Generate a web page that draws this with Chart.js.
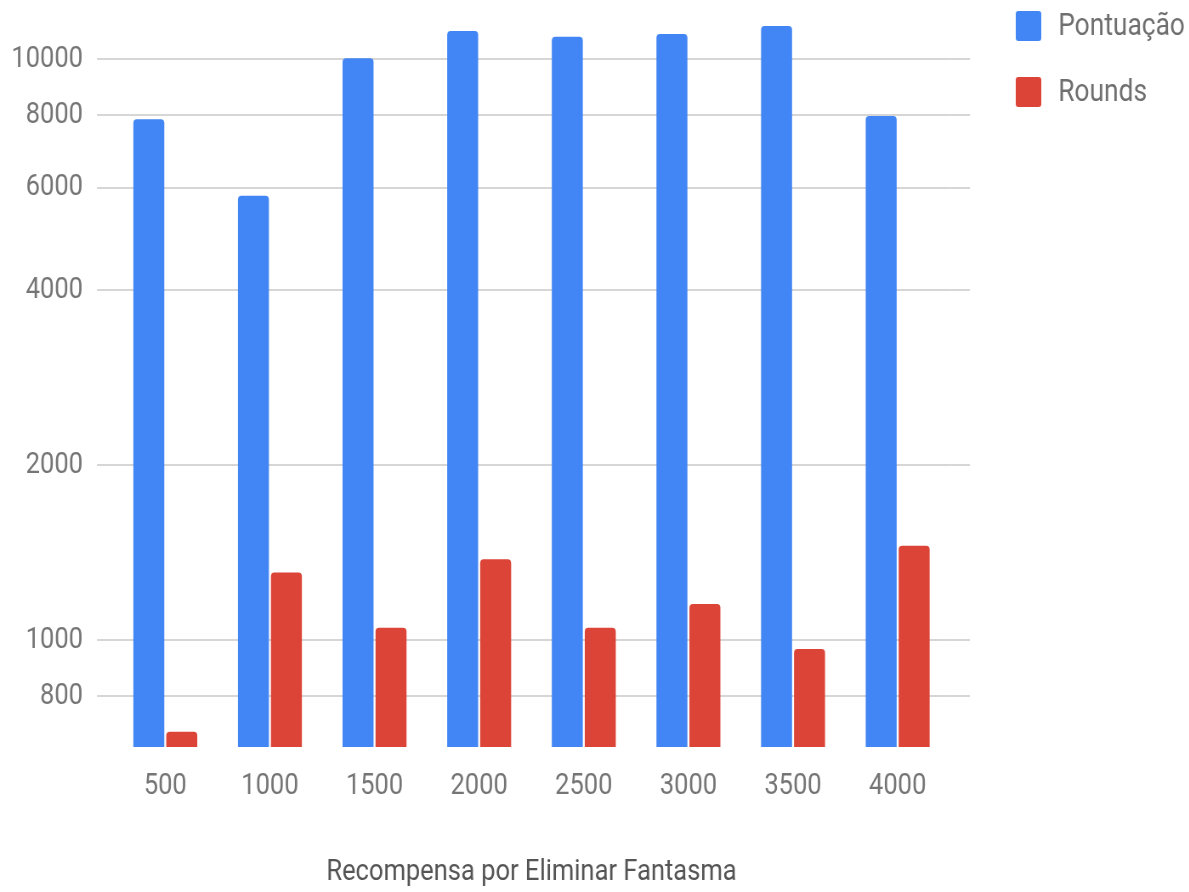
<!DOCTYPE html>
<html>
<head>
<meta charset="utf-8">
<script src="https://cdn.jsdelivr.net/npm/chart.js@4.4.1/dist/chart.umd.min.js"></script>
<style>
  html, body { margin: 0; padding: 0; background: #ffffff; overflow: hidden; }
  #wrap { width: 1189px; height: 892px; overflow: hidden; }
  /* the chart is laid out on a wider canvas and squeezed horizontally, giving condensed lettering */
  #chart { display: block; transform: scaleX(0.85); transform-origin: 0 0; }
</style>
</head>
<body>
<div id="wrap"><canvas id="chart" width="1399" height="892"></canvas></div>
<script>
// Reward per ghost eliminated vs. resulting score and number of rounds
const categories = ['500', '1000', '1500', '2000', '2500', '3000', '3500', '4000'];
const pontuacao = [7880, 5815, 10030, 11170, 10920, 11040, 11400, 7980];
const rounds = [695, 1307, 1050, 1377, 1050, 1153, 965, 1453];
const yTicks = [800, 1000, 2000, 4000, 6000, 8000, 10000];
const seriesNames = ['Pontuação', 'Rounds'];
const seriesColors = ['#4285F4', '#DB4437'];
const xTitle = 'Recompensa por Eliminar Fantasma';

const FONT = 'Roboto';
const GRID_COLOR = '#d6d6d6';

// extends the horizontal grid lines a little past the right edge of the plot
const gridTail = {
  id: 'gridTail',
  beforeDatasetsDraw(chart) {
    const { ctx, chartArea, scales } = chart;
    ctx.save();
    ctx.strokeStyle = GRID_COLOR;
    ctx.lineWidth = 2;
    scales.y.ticks.forEach(t => {
      const y = Math.round(scales.y.getPixelForValue(t.value) - 1) + 1;
      ctx.beginPath();
      ctx.moveTo(chartArea.right, y);
      ctx.lineTo(chartArea.right + 23.5, y);
      ctx.stroke();
    });
    ctx.restore();
  }
};

// series key in the top-right corner
const sideLegend = {
  id: 'sideLegend',
  afterDraw(chart) {
    const ctx = chart.ctx;
    const box = 30, step = 66, top = 11, boxX = 1195, textX = 1245;
    ctx.save();
    ctx.font = `31px ${FONT}`;
    ctx.textBaseline = 'middle';
    ctx.textAlign = 'left';
    chart.data.datasets.forEach((ds, i) => {
      const y = top + i * step;
      ctx.fillStyle = ds.backgroundColor;
      ctx.beginPath();
      ctx.roundRect(boxX, y, box, box, 3);
      ctx.fill();
      ctx.fillStyle = '#6f6f6f';
      ctx.fillText(ds.label, textX, y + box / 2 + 1);
    });
    ctx.restore();
  }
};

new Chart(document.getElementById('chart'), {
  type: 'bar',
  data: {
    labels: categories,
    datasets: [
      { label: seriesNames[0], data: pontuacao, backgroundColor: seriesColors[0] },
      { label: seriesNames[1], data: rounds, backgroundColor: seriesColors[1] }
    ]
  },
  options: {
    responsive: false,
    animation: false,
    devicePixelRatio: 1,
    layout: { padding: { top: 13, right: 281.4, bottom: 0, left: 0 } },
    datasets: {
      bar: {
        categoryPercentage: 0.63,
        barPercentage: 0.94,
        borderRadius: { topLeft: 4, topRight: 4 },
        borderSkipped: 'bottom'
      }
    },
    plugins: {
      legend: { display: false },
      tooltip: { enabled: false }
    },
    scales: {
      x: {
        grid: { display: false },
        border: { display: false },
        ticks: { color: '#757575', font: { family: FONT, size: 30 }, padding: 13 },
        title: {
          display: true,
          text: xTitle,
          color: '#555555',
          font: { family: FONT, size: 30 },
          padding: { top: 0, bottom: 2 }
        },
        afterFit(scale) { scale.height = 145; }
      },
      y: {
        type: 'logarithmic',
        min: 654.5,
        max: 12000,
        border: { display: false },
        grid: { color: GRID_COLOR, lineWidth: 2, drawTicks: true, tickLength: 18.8, tickColor: GRID_COLOR },
        ticks: {
          color: '#757575',
          font: { family: FONT, size: 30 },
          padding: 16.5,
          autoSkip: false,
          callback: v => String(v)
        },
        afterBuildTicks(scale) { scale.ticks = yTicks.map(v => ({ value: v })); },
        afterFit(scale) {
          scale.width = 132.9;
          scale.paddingTop = 0;
          scale.paddingBottom = 0;
        }
      }
    }
  },
  plugins: [gridTail, sideLegend]
});
</script>
</body>
</html>
